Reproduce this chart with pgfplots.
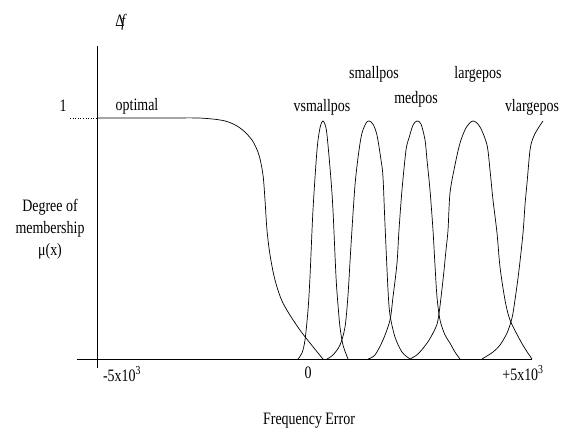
\documentclass[border=0pt]{standalone}
\usepackage{fontspec}
\setmainfont{Liberation Serif}[FakeStretch=0.8]
\usepackage{pgfplots}
\pgfplotsset{compat=1.18}
\begin{document}
\begin{tikzpicture}[font=\fontsize{17.5}{22}\selectfont]
\begin{axis}[
  scale only axis, width=563bp, height=433bp,
  xmin=-7.299, xmax=6.043, ymin=-0.307, ymax=1.490,
  hide axis, clip=false,
  mf/.style={black, line width=0.7bp, smooth, tension=0.5, no markers},
]
\path (rel axis cs:0,0) rectangle (rel axis cs:1,1);
% axis lines
\draw[black, line width=0.8bp] (axis cs:-5.474,0) -- (axis cs:5.308,0);
\draw[black, line width=0.8bp] (axis cs:-5,-0.037) -- (axis cs:-5,1.299);
\draw[black, dotted, line width=0.6bp] (axis cs:-5.64,1) -- (axis cs:-5,1);
% optimal
\addplot[mf] coordinates {(-5,1) (-3.5,1) (-2.559,1) (-1.967,0.988) (-1.611,0.959) (-1.327,0.909) (-1.161,0.846) (-1.066,0.763) (-1.019,0.660) (-0.972,0.535) (-0.900,0.432) (-0.782,0.328) (-0.592,0.232) (-0.190,0.120) (0.355,0)};
% vsmallpos
\addplot[mf] coordinates {(-0.237,0) (-0.142,0.025) (-0.071,0.079) (0,0.203) (0.047,0.340) (0.118,0.618) (0.213,0.867) (0.284,0.959) (0.355,0.988) (0.427,0.959) (0.474,0.888) (0.545,0.743) (0.592,0.618) (0.664,0.340) (0.711,0.224) (0.758,0.133) (0.829,0.058) (0.948,0)};
% smallpos
\addplot[mf] coordinates {(0.450,0) (0.592,0.017) (0.758,0.058) (0.877,0.133) (0.948,0.266) (1.019,0.473) (1.114,0.722) (1.209,0.867) (1.280,0.938) (1.374,0.979) (1.445,0.988) (1.540,0.975) (1.635,0.929) (1.730,0.826) (1.777,0.755) (1.825,0.556) (1.896,0.286) (1.943,0.183) (2.062,0.091) (2.227,0.029) (2.417,0)};
% medpos
\addplot[mf] coordinates {(1.422,0) (1.588,0.017) (1.777,0.079) (1.943,0.162) (2.014,0.257) (2.109,0.398) (2.156,0.535) (2.227,0.701) (2.322,0.867) (2.393,0.917) (2.488,0.971) (2.583,0.988) (2.678,0.975) (2.773,0.909) (2.820,0.826) (2.891,0.701) (2.962,0.535) (3.009,0.390) (3.057,0.257) (3.128,0.162) (3.246,0.100) (3.365,0.066) (3.483,0.029) (3.602,0)};
% largepos
\addplot[mf] coordinates {(2.417,0) (2.607,0.021) (2.820,0.066) (2.962,0.108) (3.081,0.162) (3.199,0.328) (3.270,0.452) (3.318,0.535) (3.365,0.689) (3.483,0.805) (3.602,0.896) (3.744,0.959) (3.910,0.988) (4.076,0.963) (4.242,0.888) (4.313,0.784) (4.384,0.660) (4.479,0.523) (4.550,0.382) (4.668,0.245) (4.787,0.162) (5.024,0.079) (5.166,0.037) (5.308,0)};
% vlargepos
\addplot[mf] coordinates {(4.123,0) (4.384,0.029) (4.550,0.058) (4.716,0.108) (4.834,0.170) (4.905,0.245) (5.000,0.369) (5.095,0.523) (5.142,0.639) (5.190,0.730) (5.261,0.867) (5.332,0.917) (5.427,0.950) (5.569,0.988)};
% labels
\node[inner sep=0] at (axis cs:-4.431,1.398) {Δ\kern-0.17em\textit{f}};
\node[inner sep=0] at (axis cs:-5.806,1.050) {1};
\node[inner sep=0] at (axis cs:-4.052,1.050) {optimal};
\node[inner sep=0] at (axis cs:0.332,1.046) {vsmallpos};
\node[inner sep=0] at (axis cs:1.564,1.183) {smallpos};
\node[inner sep=0] at (axis cs:2.559,1.079) {medpos};
\node[inner sep=0] at (axis cs:4.028,1.183) {largepos};
\node[inner sep=0] at (axis cs:5.308,1.046) {vlargepos};
\node[inner sep=0, align=center] at (axis cs:-6.114,0.539) {Degree of\\membership\\μ(x)};
\node[inner sep=0] at (axis cs:-4.408,-0.062) {-5x10\textsuperscript{3}};
\node[inner sep=0] at (axis cs:0,-0.058) {0};
\node[inner sep=0] at (axis cs:5.095,-0.058) {+5x10\textsuperscript{3}};
\node[inner sep=0] at (axis cs:0.024,-0.257) {Frequency Error};
\end{axis}
\end{tikzpicture}
\end{document}
